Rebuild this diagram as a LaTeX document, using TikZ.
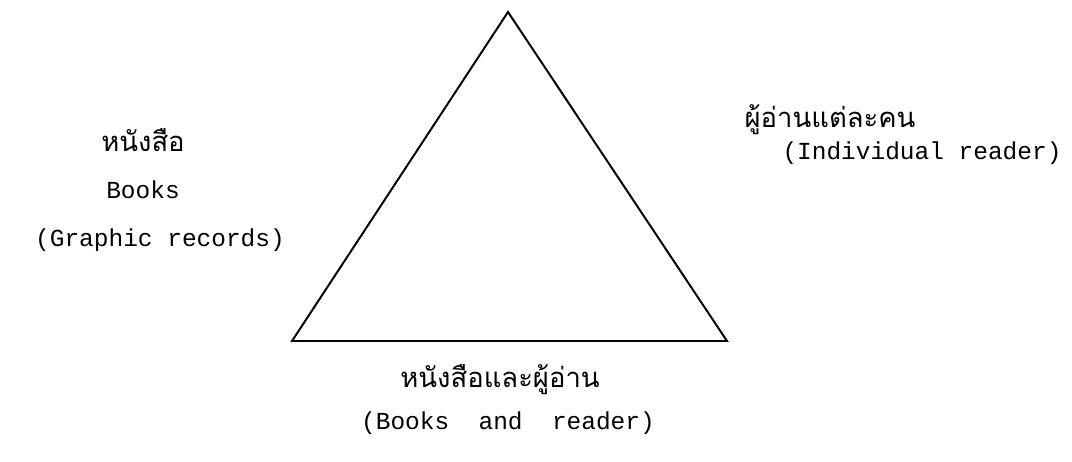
\documentclass[tikz,border=0pt]{standalone}
\usepackage{fontspec}
\setmonofont{Liberation Mono}
\newfontfamily\thaifont[Script=Thai]{Loma}
\usetikzlibrary{positioning}

\begin{document}
\begin{tikzpicture}[x=0.025cm,y=-0.025cm,
  thaitext/.style={font=\thaifont\fontsize{19.5}{22}\selectfont,inner sep=0pt},
  engtext/.style={font=\ttfamily\fontsize{17.4}{20}\selectfont,inner sep=0pt}]
\useasboundingbox (0,0) rectangle (1072,461);
\coordinate (top) at (508,12);
\coordinate (bl) at (292,341);
\coordinate (br) at (727,341);
\draw[line width=1.4pt,line join=miter] (top) -- (br) -- (bl) -- cycle;
% left side
\node[thaitext] (booksth) at (143,140) {หนังสือ};
\node[engtext] (books) at (143,190) {Books};
\node[engtext] (graphic) at (160,240) {(Graphic records)};
% right side
\node[thaitext] (readerth) at (830,120) {ผู้อ่านแต่ละคน};
\node[engtext] (reader) at (922,153) {(Individual reader)};
% bottom
\node[thaitext] (bothth) at (500,380) {หนังสือและผู้อ่าน};
\node[engtext] (both) at (508,423) {(Books\ \ and\ \ reader)};
\end{tikzpicture}
\end{document}
